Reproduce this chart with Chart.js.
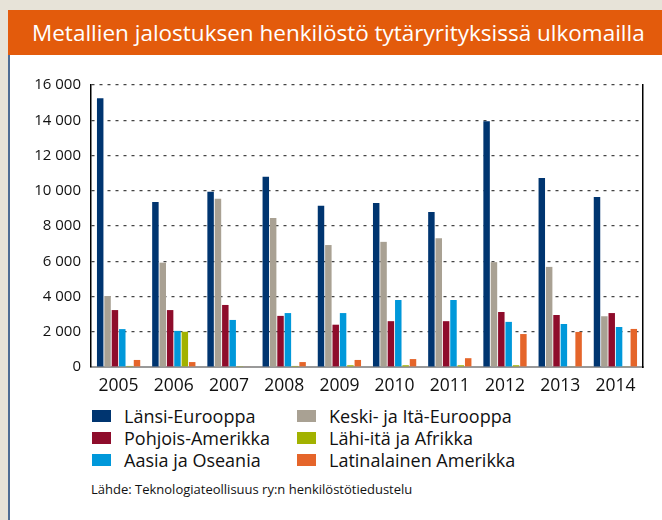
<!DOCTYPE html>
<html>
<head>
<meta charset="utf-8">
<script src="https://cdn.jsdelivr.net/npm/chart.js@4"></script>
<style>
    body { margin: 0; background: #e7e3d8; font-family: "Open Sans", sans-serif; }
    #page { position: relative; width: 662px; height: 520px; overflow: hidden; }
    #panel { position: absolute; left: 8px; top: 55px; width: 654px; height: 465px; background: #fff; border-left: 2px solid #4f6d94; box-sizing: border-box; }
    #title { position: absolute; left: 8px; top: 10px; width: 654px; height: 45px; background: #e35b0c; color: #fff; font-size: 22.5px; line-height: 45px; padding-left: 24px; box-sizing: border-box; white-space: nowrap; }
    #chartBox { position: absolute; left: 0; top: 0; width: 662px; height: 400px; }
    #legend { position: absolute; left: 92px; top: 405px; display: grid; grid-template-columns: 205px 250px; row-gap: 0px; }
    .item { display: flex; align-items: center; height: 22px; font-size: 18px; color: #111; }
    .box { width: 19px; height: 12px; margin-right: 13px; }
    #source { position: absolute; left: 91px; top: 480px; font-size: 13px; color: #111; }
</style>
</head>
<body>
<div id="page">
    <div id="title">Metallien jalostuksen henkilöstö tytäryrityksissä ulkomailla</div>
    <div id="panel"></div>
    <div id="chartBox"><canvas id="chart" width="662" height="400"></canvas></div>
    <div id="legend"></div>
    <div id="source">Lähde: Teknologiateollisuus ry:n henkilöstötiedustelu</div>
</div>
<script>
const years = ['2005', '2006', '2007', '2008', '2009', '2010', '2011', '2012', '2013', '2014'];

const lansiEurooppa = [15250, 9360, 9950, 10800, 9150, 9300, 8800, 13950, 10720, 9650];
const keskiItaEurooppa = [4030, 5920, 9550, 8450, 6920, 7100, 7300, 5950, 5680, 2880];
const pohjoisAmerikka = [3230, 3230, 3520, 2900, 2400, 2600, 2600, 3120, 2950, 3060];
const aasiaOseania = [2150, 2050, 2670, 3060, 3060, 3800, 3800, 2560, 2440, 2270];
const lahiitaAfrikka = [60, 2000, 50, 60, 100, 100, 100, 100, 40, 40];
const latinalainenAmerikka = [400, 280, 30, 280, 400, 450, 500, 1870, 1990, 2160];

const yTicks = [0, 2000, 4000, 6000, 8000, 10000, 12000, 14000, 16000];

const series = [
    { label: 'Länsi-Eurooppa', data: lansiEurooppa, color: '#003570' },
    { label: 'Keski- ja Itä-Eurooppa', data: keskiItaEurooppa, color: '#a9a193' },
    { label: 'Pohjois-Amerikka', data: pohjoisAmerikka, color: '#8e0c2b' },
    { label: 'Aasia ja Oseania', data: aasiaOseania, color: '#0098da' },
    { label: 'Lähi-itä ja Afrikka', data: lahiitaAfrikka, color: '#a2b200' },
    { label: 'Latinalainen Amerikka', data: latinalainenAmerikka, color: '#e5652a' }
];

// legend order in the picture: two columns
const legendOrder = [0, 1, 2, 4, 3, 5];

function formatThousands(v) {
    return String(v).replace(/\B(?=(\d{3})+(?!\d))/g, ' ');
}

const ctx = document.getElementById('chart').getContext('2d');
new Chart(ctx, {
    type: 'bar',
    data: {
        labels: years,
        datasets: series.map(s => ({
            label: s.label,
            data: s.data,
            backgroundColor: s.color,
            borderWidth: 0,
            categoryPercentage: 0.8,
            barPercentage: 0.88
        }))
    },
    options: {
        responsive: false,
        animation: false,
        layout: { padding: { left: 0, right: 19, top: 85, bottom: 0 } },
        plugins: {
            legend: { display: false },
            tooltip: { enabled: false }
        },
        scales: {
            x: {
                grid: { display: false },
                border: { color: '#999', width: 2 },
                ticks: {
                    color: '#111',
                    font: { family: 'Open Sans', size: 17.5 },
                    padding: 1
                },
                afterFit: axis => { axis.height = 33; }
            },
            y: {
                min: 0,
                max: 16000,
                afterBuildTicks: axis => { axis.ticks = yTicks.map(v => ({ value: v })); },
                grid: {
                    color: '#444',
                    lineWidth: 1.2,
                    drawTicks: false
                },
                border: { color: '#000', width: 1.5, dash: [3, 5] },
                ticks: {
                    color: '#111',
                    font: { family: 'Open Sans', size: 15 },
                    padding: 10,
                    callback: v => formatThousands(v)
                },
                afterFit: axis => { axis.width = 91; }
            },
            y2: {
                position: 'right',
                min: 0,
                max: 16000,
                grid: { display: false },
                border: { color: '#000', width: 1.5 },
                ticks: { display: false },
                afterFit: axis => { axis.width = 0; }
            }
        }
    }
});

// html legend built from the series list
const legendEl = document.getElementById('legend');
legendOrder.forEach(i => {
    const s = series[i];
    const item = document.createElement('div');
    item.className = 'item';
    item.innerHTML = '<span class="box" style="background:' + s.color + '"></span>' + s.label;
    legendEl.appendChild(item);
});
</script>
</body>
</html>
